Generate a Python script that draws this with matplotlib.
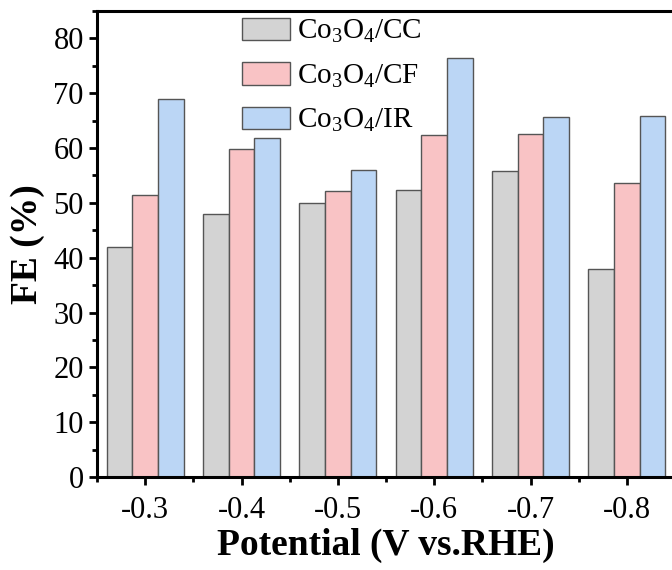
import numpy as np
import matplotlib
matplotlib.use('Agg')
import matplotlib.pyplot as plt
from matplotlib.ticker import MultipleLocator

plt.rcParams['font.family'] = 'Liberation Serif'
plt.rcParams['mathtext.fontset'] = 'custom'
plt.rcParams['mathtext.rm'] = 'Liberation Serif'
plt.rcParams['mathtext.it'] = 'Liberation Serif'
plt.rcParams['mathtext.bf'] = 'Liberation Serif:bold'

# data
potentials = ['-0.3', '-0.4', '-0.5', '-0.6', '-0.7', '-0.8']
fe_cc = [42.0, 48.0, 50.0, 52.4, 55.9, 37.9]
fe_cf = [51.5, 59.8, 52.1, 62.3, 62.6, 53.7]
fe_ir = [68.9, 61.8, 56.0, 76.4, 65.6, 65.8]
labels = [r'Co$_3$O$_4$/CC', r'Co$_3$O$_4$/CF', r'Co$_3$O$_4$/IR']
colors = ['#d3d3d3', '#f9c3c5', '#bbd6f5']

fig = plt.figure(figsize=(6.72, 5.70), dpi=100)
ax = fig.add_axes([97/672, 1 - 477/570, 578/672, 466/570])

x = np.arange(len(potentials))
w = 0.8 / 3
for i, (vals, lab, c) in enumerate(zip([fe_cc, fe_cf, fe_ir], labels, colors)):
    ax.bar(x + (i - 1) * w, vals, width=w, color=c, edgecolor='#555555',
           linewidth=1.0, label=lab)

ax.set_xlim(-0.5, len(potentials) - 0.5)
ax.set_ylim(0, 85)
ax.set_xticks(x)
ax.set_xticklabels(potentials)
ax.xaxis.set_minor_locator(MultipleLocator(1.0, offset=0.5))
ax.yaxis.set_major_locator(MultipleLocator(10))
ax.yaxis.set_minor_locator(MultipleLocator(5))

for s in ax.spines.values():
    s.set_linewidth(2.2)
ax.tick_params(which='major', direction='out', length=6, width=2, labelsize=22)
ax.tick_params(axis='x', which='major', pad=8)
ax.tick_params(which='minor', direction='out', length=3.5, width=2)

ax.set_xlabel('Potential (V vs.RHE)', fontsize=27, fontweight='bold', labelpad=2)
ax.set_ylabel('FE (%)', fontsize=27, fontweight='bold', labelpad=6)

ax.legend(loc='upper left', bbox_to_anchor=(236/672, 1 - 12/570),
          bbox_transform=fig.transFigure, frameon=False, fontsize=21,
          handlelength=1.65, handleheight=0.8, labelspacing=0.58,
          handletextpad=0.25, borderpad=0.2, borderaxespad=0)

fig.savefig('out.png', dpi=100)
